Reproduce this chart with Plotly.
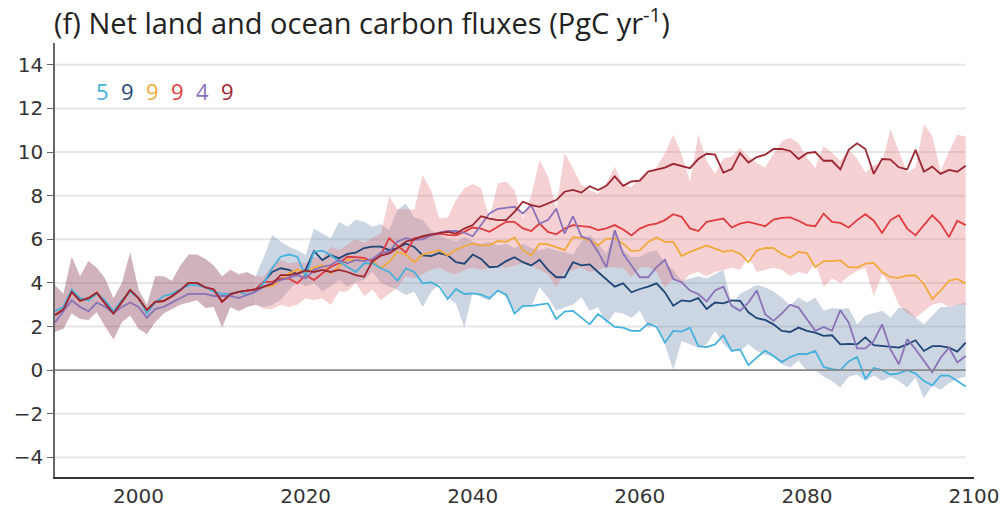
import plotly.graph_objects as go

# ---------------- data ----------------
hist_years = list(range(1990, 2015))
scen_years = list(range(2015, 2100))

hist_main = [2.52, 2.78, 3.59, 3.18, 3.30, 3.55, 3.06, 2.60, 3.13, 3.67, 3.29, 2.75, 3.13,
             3.17, 3.39, 3.67, 4.00, 4.00, 3.79, 3.70, 3.13, 3.49, 3.59, 3.65, 3.70]
hist_lightblue = [2.7, 2.9, 3.7, 3.3, 3.2, 3.5, 3.2, 2.7, 3.2, 3.6, 3.3, 2.6, 3.1, 3.4, 3.5,
                  3.7, 3.9, 3.9, 3.8, 3.6, 3.5, 3.5, 3.6, 3.45, 3.6]
hist_purple = [2.2, 2.7, 3.2, 2.9, 2.7, 3.1, 2.9, 2.6, 2.9, 3.1, 2.9, 2.4, 2.8, 2.9, 3.1,
               3.3, 3.5, 3.5, 3.5, 3.4, 3.4, 3.4, 3.3, 3.45, 3.6]
hist_upper = [3.9, 3.5, 5.2, 4.3, 5.0, 4.7, 4.2, 3.3, 4.0, 5.4, 3.7, 3.0, 4.3, 4.3, 4.1,
              4.8, 5.3, 5.3, 5.1, 4.8, 4.3, 4.6, 4.4, 4.5, 4.3]
hist_lower = [1.75, 1.9, 2.6, 2.35, 2.3, 2.65, 2.0, 1.4, 2.2, 2.5, 1.9, 1.65, 2.2, 2.6, 2.8,
              3.0, 3.1, 3.2, 2.85, 2.9, 1.95, 2.9, 2.7, 2.9, 3.0]

lightblue = [4.00, 4.67, 5.20, 5.30, 5.20, 4.30, 5.43, 5.48, 5.28, 4.97,
             4.74, 4.50, 4.90, 4.90, 4.67, 4.50, 4.10, 4.67, 4.50, 3.98,
             4.03, 3.83, 3.26, 3.72, 3.49, 3.52, 3.46, 3.30, 3.65, 3.46,
             2.60, 2.95, 2.95, 3.00, 3.06, 2.34, 2.68, 2.72, 2.40, 2.10,
             2.57, 2.26, 1.98, 1.95, 1.80, 1.80, 2.14, 1.98, 1.26, 1.80,
             1.77, 1.95, 1.10, 1.06, 1.18, 1.60, 0.88, 0.95, 0.23, 0.57,
             0.90, 0.65, 0.37, 0.60, 0.74, 0.74, 0.88, 0.15, 0.05, 0.00,
             0.40, 0.60, -0.40, 0.10, 0.00, -0.20, -0.15, 0.00, -0.15, -0.50,
             -0.70, -0.25, -0.25, -0.50, -0.75]
navy = [4.05, 4.50, 4.67, 4.60, 4.40, 4.60, 5.46, 5.05, 5.28, 5.13,
        5.33, 5.39, 5.60, 5.66, 5.66, 5.50, 5.60, 5.80, 5.65, 5.26,
        5.23, 5.37, 5.26, 4.95, 4.88, 5.30, 5.10, 4.72, 4.75, 5.00,
        5.18, 4.95, 4.80, 5.06, 4.60, 4.26, 4.26, 4.95, 4.80, 4.85,
        4.50, 4.18, 3.83, 3.98, 3.57, 3.72, 3.83, 3.98, 3.57, 2.95,
        3.20, 3.15, 3.30, 2.80, 3.10, 3.06, 3.20, 3.18, 2.65, 2.38,
        2.30, 2.10, 1.80, 1.75, 1.95, 1.80, 1.72, 1.57, 1.60, 1.18,
        1.20, 1.18, 1.50, 1.15, 1.10, 1.06, 1.03, 1.18, 1.37, 0.88,
        1.10, 1.10, 1.03, 0.85, 1.26]
orange = [3.83, 3.85, 4.13, 4.44, 4.60, 4.50, 4.70, 4.82, 4.44, 4.74,
          5.05, 5.05, 5.08, 5.00, 4.67, 4.97, 5.43, 5.30, 4.95, 5.30,
          5.40, 5.50, 5.26, 5.52, 5.68, 5.80, 5.72, 5.72, 5.92, 5.88,
          6.08, 5.50, 5.26, 5.80, 5.77, 5.65, 5.50, 6.10, 6.06, 5.95,
          5.72, 6.03, 6.03, 5.80, 5.46, 5.49, 5.88, 6.08, 5.88, 5.88,
          5.23, 5.42, 5.57, 5.72, 5.57, 5.42, 5.49, 5.34, 4.95, 5.49,
          5.60, 5.60, 5.33, 5.15, 5.42, 5.37, 4.72, 5.00, 5.00, 5.03,
          4.72, 4.70, 4.88, 4.92, 4.50, 4.26, 4.23, 4.34, 4.34, 3.95,
          3.26, 3.64, 4.10, 4.18, 3.98]
red = [4.05, 4.05, 4.20, 4.20, 3.98, 4.36, 4.13, 4.44, 4.74, 4.90,
       5.20, 5.18, 5.15, 4.97, 5.28, 6.05, 5.70, 5.40, 6.05, 6.10,
       6.18, 6.26, 6.20, 6.18, 6.34, 6.54, 6.49, 6.34, 6.57, 6.80,
       6.80, 6.50, 6.38, 6.72, 6.34, 6.23, 6.49, 6.65, 6.60, 6.57,
       6.42, 6.50, 6.65, 6.45, 6.18, 6.49, 6.65, 6.72, 6.88, 7.15,
       7.03, 6.50, 6.38, 6.80, 6.88, 6.95, 6.54, 6.72, 6.80, 6.70,
       6.60, 6.90, 6.98, 7.00, 6.85, 6.65, 6.60, 7.18, 6.80, 6.75,
       6.54, 6.88, 7.15, 6.85, 6.29, 6.88, 7.10, 6.49, 6.18, 6.65,
       7.10, 6.72, 6.10, 6.85, 6.65]
purple = [3.83, 4.00, 4.13, 4.25, 4.36, 4.20, 4.60, 4.74, 4.82, 5.05,
          4.90, 5.05, 5.00, 5.10, 5.39, 5.43, 5.90, 6.05, 5.97, 6.00,
          6.18, 6.30, 6.38, 6.38, 6.30, 6.14, 6.65, 7.18, 7.40, 7.46,
          7.49, 7.18, 7.57, 6.72, 6.88, 7.40, 6.26, 7.06, 6.14, 6.00,
          5.42, 4.72, 6.42, 5.34, 4.80, 4.26, 4.26, 4.72, 5.06, 4.18,
          4.03, 3.65, 3.49, 3.15, 3.65, 3.83, 2.95, 2.72, 3.10, 3.65,
          2.57, 2.26, 2.60, 3.00, 2.87, 2.34, 1.80, 1.98, 1.80, 2.75,
          2.18, 1.00, 1.00, 1.34, 2.10, 0.96, 0.27, 1.42, 0.96, 0.43,
          -0.10, 0.57, 1.03, 0.35, 0.65]
darkred = [3.83, 3.95, 4.36, 4.36, 4.44, 4.56, 4.50, 4.60, 4.50, 4.60,
           4.50, 4.36, 4.28, 5.00, 5.25, 5.35, 5.60, 5.90, 6.00, 6.14,
           6.23, 6.30, 6.34, 6.26, 6.49, 6.65, 7.06, 6.95, 6.88, 6.88,
           7.26, 7.72, 7.57, 7.49, 7.65, 7.80, 8.18, 8.26, 8.14, 8.43,
           8.26, 8.45, 8.88, 8.45, 8.65, 8.69, 9.10, 9.18, 9.29, 9.46,
           9.37, 9.26, 9.68, 9.92, 9.88, 9.06, 9.22, 9.95, 9.52, 9.77,
           9.88, 10.14, 10.14, 10.05, 9.68, 9.95, 10.00, 9.60, 9.60, 9.20,
           10.10, 10.40, 10.14, 9.00, 9.68, 9.65, 9.30, 9.20, 10.10, 9.10,
           9.33, 9.00, 9.18, 9.10, 9.37]

low_upper = [5.20, 6.20, 5.90, 5.66, 5.50, 5.28, 6.50, 6.27, 6.05, 6.80,
             6.58, 6.90, 6.80, 6.58, 6.70, 6.43, 7.35, 7.65, 7.00, 6.90,
             6.40, 6.20, 6.00, 5.90, 6.10, 5.90, 5.80, 5.90, 5.70, 5.80,
             5.60, 5.80, 5.60, 5.50, 5.60, 5.50, 5.40, 5.30, 5.90, 6.20,
             5.80, 5.34, 6.34, 5.50, 5.18, 5.20, 5.40, 5.50, 4.90, 4.60,
             4.10, 4.20, 4.30, 4.20, 4.40, 4.60, 3.00, 3.50, 3.70, 3.90,
             3.80, 3.60, 3.33, 2.95, 3.33, 3.10, 3.33, 2.72, 2.85, 2.80,
             2.85, 2.10, 2.50, 2.60, 2.72, 2.40, 2.87, 2.80, 2.40, 2.10,
             2.50, 2.90, 2.90, 3.00, 3.10]
low_lower = [2.90, 3.00, 3.20, 3.67, 4.05, 3.83, 4.00, 3.60, 3.83, 4.13,
             3.83, 4.05, 4.13, 4.50, 4.00, 3.83, 3.67, 3.44, 3.60, 2.88,
             3.57, 3.95, 3.34, 3.03, 1.95, 3.57, 3.34, 3.18, 3.65, 3.34,
             2.72, 2.88, 2.90, 3.80, 3.34, 2.72, 2.88, 3.00, 3.34, 2.72,
             2.88, 2.10, 2.65, 2.60, 2.40, 2.72, 1.95, 2.10, 1.18, 0.00,
             1.34, 1.20, 1.03, 1.20, 1.80, 1.20, 0.88, 0.88, 1.20, 0.88,
             0.72, 0.60, 0.27, 0.12, 0.43, -0.03, 0.00, -0.30, -0.50, -0.80,
             -0.30, -0.20, -0.50, -0.25, -0.50, -0.30, -0.50, -0.80, -0.35, -1.30,
             -0.70, -0.90, -0.60, -0.40, -0.30]
high_upper = [4.30, 4.80, 5.05, 4.90, 4.95, 4.90, 5.20, 5.10, 5.66, 5.50,
              5.74, 6.00, 5.85, 6.05, 6.27, 7.96, 7.35, 7.40, 7.34, 8.95,
              8.26, 6.95, 7.00, 7.80, 8.34, 8.54, 8.34, 6.95, 8.57, 8.65,
              8.26, 6.95, 7.98, 9.65, 8.88, 7.42, 9.95, 9.26, 8.50, 8.26,
              8.10, 8.57, 9.34, 8.50, 8.40, 8.80, 9.00, 9.30, 9.95, 10.80,
              9.90, 8.65, 10.80, 9.60, 9.00, 9.70, 9.80, 10.18, 9.80, 9.50,
              9.30, 9.90, 10.50, 10.66, 10.40, 9.74, 9.28, 10.27, 9.97, 9.60,
              10.10, 9.70, 9.05, 9.40, 9.50, 11.04, 10.00, 9.05, 9.30, 11.27,
              10.73, 9.13, 10.00, 10.80, 10.70]
high_lower = [2.80, 2.80, 3.00, 2.90, 3.00, 3.30, 3.20, 3.30, 3.00, 3.60,
              3.60, 4.00, 3.40, 3.70, 3.20, 3.50, 3.80, 4.30, 4.20, 4.40,
              4.60, 4.70, 4.50, 4.40, 4.60, 4.70, 4.60, 4.70, 4.80, 4.70,
              4.80, 4.90, 4.80, 4.60, 4.40, 3.80, 4.50, 4.60, 4.70, 4.50,
              4.60, 4.72, 4.70, 4.70, 4.26, 4.70, 4.74, 4.50, 3.80, 4.20,
              4.00, 4.40, 4.50, 4.30, 4.50, 4.60, 4.70, 4.60, 5.20, 4.50,
              4.60, 4.70, 4.60, 4.30, 4.50, 4.40, 4.90, 3.80, 4.20, 4.00,
              4.30, 4.55, 4.70, 3.40, 4.40, 3.90, 3.00, 2.60, 2.40, 2.70,
              3.00, 3.10, 2.90, 3.00, 3.00]

legend_labels = ["5", "9", "9", "9", "4", "9"]
x_ticks = [2000, 2020, 2040, 2060, 2080, 2100]
y_ticks = [-4, -2, 0, 2, 4, 6, 8, 10, 12, 14]

# ---------------- style ----------------
C_LB = "#45b1dc"
C_NV = "#1f4677"
C_OR = "#f0a93a"
C_RD = "#e03b3d"
C_PU = "#8a72b8"
C_DR = "#9c2631"
BAND_HIST = "rgba(125,45,70,0.37)"
BAND_LOW = "rgba(115,140,178,0.36)"
BAND_HIGH = "rgba(228,120,130,0.34)"

X0, X1 = 1990, 2100
Y0, Y1 = -4.9, 15.0

fig = go.Figure()


def band(xs, up, lo, color):
    fig.add_trace(go.Scatter(x=xs + xs[::-1], y=up + lo[::-1], fill="toself",
                             fillcolor=color, line=dict(width=0), mode="lines",
                             hoverinfo="skip", showlegend=False))


band(hist_years, hist_upper, hist_lower, BAND_HIST)
sx = [hist_years[-1]] + scen_years
band(sx, [hist_upper[-1]] + low_upper, [hist_lower[-1]] + low_lower, BAND_LOW)
band(sx, [hist_upper[-1]] + high_upper, [hist_lower[-1]] + high_lower, BAND_HIGH)

all_years = hist_years + scen_years
series = [
    (hist_main + navy, C_NV),
    (hist_main + orange, C_OR),
    (hist_main + red, C_RD),
    (hist_lightblue + lightblue, C_LB),
    (hist_purple + purple, C_PU),
    (hist_main + darkred, C_DR),
]
for vals, col in series:
    fig.add_trace(go.Scatter(x=all_years, y=vals, mode="lines",
                             line=dict(color=col, width=1.8), showlegend=False,
                             hoverinfo="skip"))

# grid lines (drawn only over the data span) and zero line
shapes = []
for yv in y_ticks:
    if yv == 0:
        continue
    shapes.append(dict(type="line", xref="x", yref="y", x0=X0, x1=all_years[-1],
                       y0=yv, y1=yv, line=dict(color="#e6e6e6", width=2), layer="below"))
shapes.append(dict(type="line", xref="x", yref="y", x0=X0, x1=all_years[-1],
                   y0=0, y1=0, line=dict(color="#8a8a8a", width=1.6), layer="above"))

# legend-like coloured numbers
leg_cols = [C_LB, C_NV, C_OR, C_RD, C_PU, C_DR]
annotations = []
for i, (lab, col) in enumerate(zip(legend_labels, leg_cols)):
    annotations.append(dict(x=1995.7 + 3.0 * i, y=12.8, xref="x", yref="y", text=lab,
                            showarrow=False, font=dict(family="Open Sans", size=22, color=col),
                            xanchor="center", yanchor="middle"))

fig.update_layout(
    width=1002, height=510,
    margin=dict(l=55, r=28, t=43, b=33, autoexpand=False),
    paper_bgcolor="white", plot_bgcolor="white",
    shapes=shapes, annotations=annotations,
    title=dict(text="(f) Net land and ocean carbon fluxes (PgC yr<sup>-1</sup>)",
               x=54 / 1002, xanchor="left", y=1 - 24 / 510, yanchor="middle",
               font=dict(family="Open Sans", size=29, color="#222222")),
    showlegend=False,
)
fig.update_xaxes(range=[X0, X1], tickvals=x_ticks, showgrid=False, zeroline=False,
                 showline=True, linecolor="#333333", linewidth=1.5, ticks="",
                 automargin=False,
                 tickfont=dict(family="DejaVu Sans", size=20, color="#333333"))
fig.update_yaxes(range=[Y0, Y1], tickvals=y_ticks, showgrid=False, zeroline=False,
                 showline=True, linecolor="#666666", linewidth=1.5, ticks="outside",
                 ticklen=6, tickwidth=1.2, tickcolor="#666666", automargin=False,
                 tickfont=dict(family="DejaVu Sans", size=20, color="#333333"))

fig.write_html("out.html")
